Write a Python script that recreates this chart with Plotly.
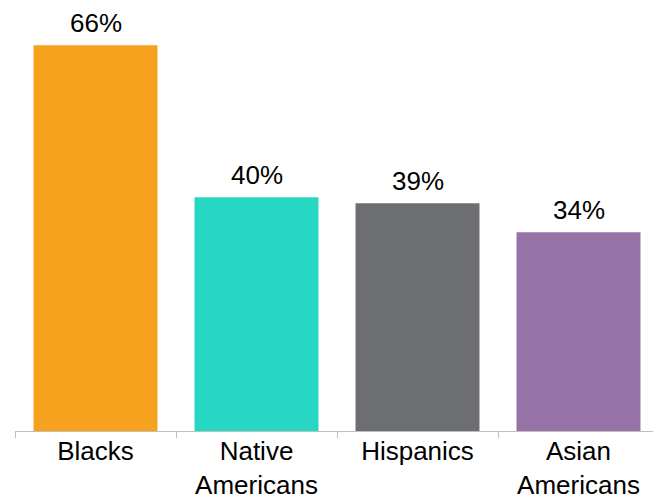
import plotly.graph_objects as go

categories = ["Blacks", "Native<br>Americans", "Hispanics", "Asian<br>Americans"]
values = [66, 40, 39, 34]
labels = ["66%", "40%", "39%", "34%"]
colors = ["#F7A21E", "#26D7C4", "#6D6E71", "#9672A6"]

FONT = "Liberation Sans, Arial, sans-serif"

fig = go.Figure(go.Bar(
    x=categories, y=values, marker=dict(color=colors, line=dict(width=0)),
    cliponaxis=False, hoverinfo="skip",
))

for c, v, t in zip(categories, values, labels):
    fig.add_annotation(
        x=c, y=v, text=t, showarrow=False, yanchor="bottom", xanchor="center",
        yshift=5, font=dict(size=26, color="#000000", family=FONT),
    )

# page body has an 8px default margin, so the figure is slightly smaller
fig.update_layout(
    width=653, height=489,
    margin=dict(l=7, r=2, t=13.5, b=66),
    plot_bgcolor="white", paper_bgcolor="white",
    bargap=0.23, showlegend=False,
    font=dict(family=FONT, color="#000000"),
)
fig.update_xaxes(
    showline=True, linecolor="#BFBFBF", linewidth=1,
    ticks="outside", tickson="boundaries", ticklen=6, tickcolor="#BFBFBF",
    tickfont=dict(size=26), showgrid=False, range=[-0.5, 3.5],
    automargin=False, ticklabelstandoff=-3,
)
fig.update_yaxes(visible=False, range=[0, 70], showgrid=False, automargin=False)

fig.write_html("out.html")
